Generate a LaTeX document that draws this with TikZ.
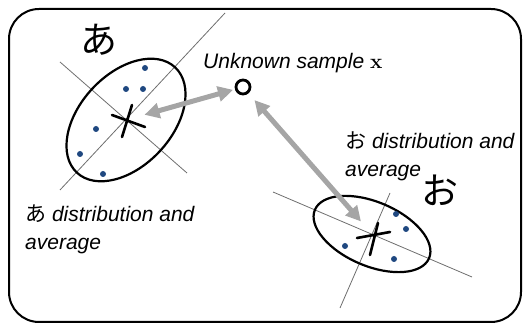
\documentclass[tikz,border=0pt]{standalone}
\usepackage[no-math]{fontspec}
\usetikzlibrary{arrows.meta}
\setmainfont{Liberation Sans}
\newfontfamily\jpFont{Noto Sans CJK JP}
\definecolor{dotNavy}{RGB}{31,72,128}
\definecolor{arrowGray}{RGB}{165,165,165}
\definecolor{axisGray}{RGB}{110,110,110}

\begin{document}
\begin{tikzpicture}[x=1pt,y=1pt,
  axisLine/.style={draw=axisGray,line width=0.8pt},
  clusterEdge/.style={draw=black,line width=2.2pt},
  meanMark/.style={line width=2.6pt,line cap=round},
  meanSpot/.style={circle,inner sep=0pt,minimum size=#1},
  sampleDot/.style={circle,fill=dotNavy,inner sep=0pt,minimum size=6pt},
  gapArrow/.style={draw=arrowGray,line width=5pt,{Triangle[length=15pt,width=15pt]}-{Triangle[length=15pt,width=15pt]}},
  caption/.style={font=\fontsize{21}{28}\selectfont\itshape,anchor=base west,align=left,inner sep=0pt},
  kana/.style={font=\jpFont\fontsize{37}{37}\selectfont,inner sep=0pt}]
\useasboundingbox (0,0) rectangle (523,324);
\begin{scope}
  \clip (0,0) rectangle (523,324);
  \draw[line width=2pt,rounded corners=30pt] (9,2) rectangle (521,315);
\end{scope}
% cluster of "a"
\node[meanSpot=38pt] (aMean) at (126,204) {};
\draw[axisLine] (60,134) -- (225,311);
\draw[axisLine] (60,262) -- (187,151);
\draw[clusterEdge,rotate around={47:(aMean.center)}] (aMean.center) ellipse [x radius=72, y radius=46];
\draw[meanMark] (112,209) -- (145,197) (132,219) -- (122,187);
\foreach \p [count=\i] in {(145,256),(126,235),(143,235),(96,195),(80,170),(103,150)}
  \node[sampleDot] (aDot\i) at \p {};
\node[kana] (aKana) at (99,284) {あ};
\node[caption] (aCaption) at (25,74) {{\jpFont\upshape あ} distribution and\\average};
% cluster of "o"
\node[meanSpot=33pt] (oMean) at (372,90) {};
\draw[axisLine] (273,132) -- (472,47);
\draw[axisLine] (390,131) -- (340,16);
\draw[clusterEdge,rotate around={-23:(oMean.center)}] (oMean.center) ellipse [x radius=62, y radius=32];
\draw[meanMark] (357,86) -- (390,92) (378,101) -- (370,69);
\foreach \p [count=\i] in {(396,110),(406,95),(345,78),(394,65)}
  \node[sampleDot] (oDot\i) at \p {};
\node[kana] (oKana) at (440,134) {お};
\node[caption] (oCaption) at (345,147) {{\jpFont\upshape お} distribution and\\average};
% unknown sample
\node[circle,draw,line width=2.8pt,minimum size=14pt,inner sep=0pt] (sample) at (243,237) {};
\node[caption] (sampleLabel) at (203,255) {Unknown sample $\mathbf{x}$};
\draw[gapArrow,shorten >=2pt] (aMean) -- (sample);
\draw[gapArrow,shorten <=9pt] (sample) -- (oMean);
\end{tikzpicture}
\end{document}
